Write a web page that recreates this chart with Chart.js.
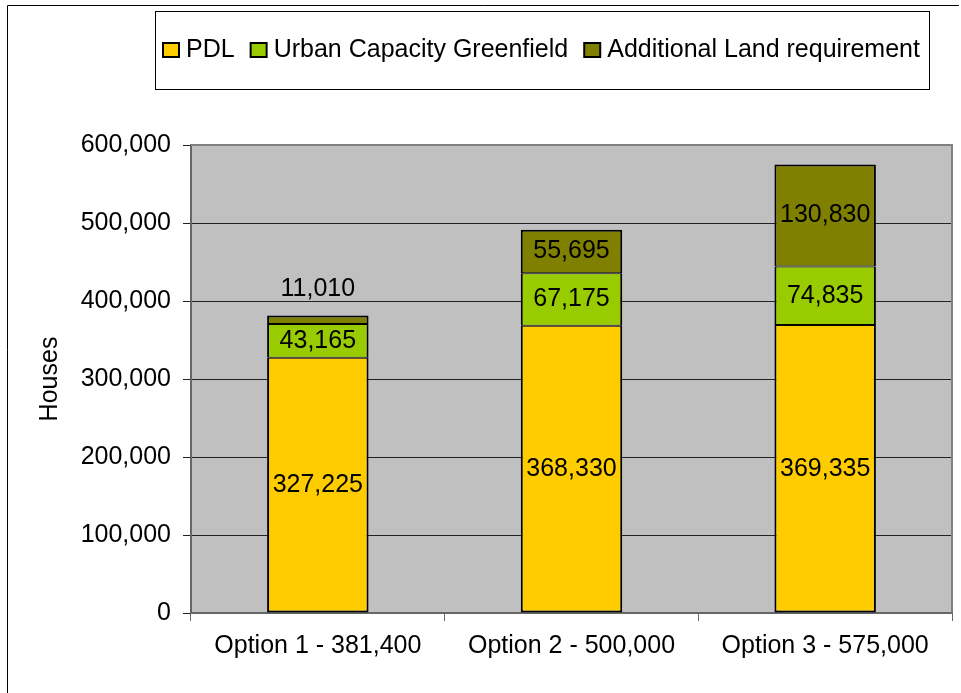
<!DOCTYPE html>
<html>
<head>
<meta charset="utf-8">
<script src="https://cdn.jsdelivr.net/npm/chart.js@4"></script>
<style>
  body { margin: 0; background: #fff; }
  canvas { display: block; }
</style>
</head>
<body>
<canvas id="housesChart" width="961" height="693"></canvas>
<script>
// Chart data
const options = ['Option 1 - 381,400', 'Option 2 - 500,000', 'Option 3 - 575,000'];
const pdl = [327225, 368330, 369335];
const urbanGreenfield = [43165, 67175, 74835];
const additionalLand = [11010, 55695, 130830];
const yTicks = [0, 100000, 200000, 300000, 400000, 500000, 600000];

const FONT = 'Arial, "Liberation Sans", sans-serif';
const fmt = v => v.toLocaleString('en-US');

// frame, plot background, legend box and value labels
const excelLook = {
  id: 'excelLook',
  beforeDraw(chart) {
    const c = chart.ctx;
    const a = chart.chartArea;
    c.save();
    c.fillStyle = '#fff';
    c.fillRect(0, 0, chart.width, chart.height);
    // outer frame (left and top visible)
    c.strokeStyle = '#000';
    c.lineWidth = 1;
    c.beginPath();
    c.moveTo(7.5, 700);
    c.lineTo(7.5, 5.5);
    c.lineTo(959, 5.5);
    c.stroke();
    c.fillStyle = '#C0C0C0';
    c.fillRect(a.left, a.top, a.right - a.left, a.bottom - a.top);
    c.restore();
  },
  afterDraw(chart) {
    const c = chart.ctx;
    const a = chart.chartArea;
    c.save();
    // top and right plot border
    c.strokeStyle = '#808080';
    c.lineWidth = 2;
    c.beginPath();
    c.moveTo(a.left, a.top);
    c.lineTo(a.right, a.top);
    c.lineTo(a.right, a.bottom);
    c.stroke();

    // legend box
    c.strokeStyle = '#000';
    c.lineWidth = 1;
    c.strokeRect(155.5, 11.5, 774, 78);
    c.font = '25px ' + FONT;
    c.textBaseline = 'middle';
    c.textAlign = 'left';
    let x = 163;
    chart.data.datasets.forEach(ds => {
      c.fillStyle = ds.backgroundColor;
      c.fillRect(x, 43, 16, 14);
      c.lineWidth = 2;
      c.strokeStyle = '#000';
      c.strokeRect(x, 43, 16, 14);
      c.fillStyle = '#000';
      c.fillText(ds.label, x + 23, 50);
      x += 23 + c.measureText(ds.label).width + 16;
    });

    // value labels
    c.textAlign = 'center';
    c.fillStyle = '#000';
    chart.data.datasets.forEach((ds, i) => {
      const meta = chart.getDatasetMeta(i);
      meta.data.forEach((bar, j) => {
        const h = Math.abs(bar.base - bar.y);
        const text = fmt(ds.data[j]);
        if (h < 30) {
          c.textBaseline = 'alphabetic';
          c.fillText(text, bar.x, bar.y - 20);
        } else {
          c.textBaseline = 'middle';
          c.fillText(text, bar.x, (bar.y + bar.base) / 2);
        }
      });
    });
    c.restore();
  }
};

const barStyle = { borderColor: '#000', borderSkipped: false,
                   categoryPercentage: 1, barPercentage: 0.4 };

new Chart(document.getElementById('housesChart').getContext('2d'), {
  type: 'bar',
  data: {
    labels: options,
    datasets: [
      { label: 'PDL', data: pdl, backgroundColor: '#FFCC00', ...barStyle,
        borderWidth: { top: 1, bottom: 2, left: 2, right: 2 } },
      { label: 'Urban Capacity Greenfield', data: urbanGreenfield, backgroundColor: '#99CC00', ...barStyle,
        borderWidth: { top: 1, bottom: 1, left: 2, right: 2 } },
      { label: 'Additional Land requirement', data: additionalLand, backgroundColor: '#808000', ...barStyle,
        borderWidth: { top: 2, bottom: 1, left: 2, right: 2 } }
    ]
  },
  options: {
    responsive: false,
    animation: false,
    layout: { padding: { left: 8, top: 145, right: 9, bottom: 0 } },
    plugins: {
      legend: { display: false },
      tooltip: { enabled: false }
    },
    scales: {
      x: {
        stacked: true,
        afterFit(scale) { scale.height = 80; },
        grid: { offset: true, drawOnChartArea: false, tickLength: 8, color: '#666' },
        border: { color: '#666', width: 2 },
        ticks: { color: '#000', padding: 10, font: { family: FONT, size: 25 } }
      },
      y: {
        stacked: true,
        min: 0,
        max: 600000,
        afterFit(scale) { scale.width = 183; },
        afterBuildTicks(scale) { scale.ticks = yTicks.map(v => ({ value: v })); },
        grid: { color: '#222', lineWidth: 1, tickLength: 8 },
        border: { color: '#666', width: 2 },
        ticks: { color: '#000', padding: 12, font: { family: FONT, size: 25 },
                 callback: v => fmt(v) },
        title: { display: true, text: 'Houses', color: '#000', padding: { top: 27, bottom: 0 },
                 font: { family: FONT, size: 25 } }
      }
    }
  },
  plugins: [excelLook]
});
</script>
</body>
</html>
